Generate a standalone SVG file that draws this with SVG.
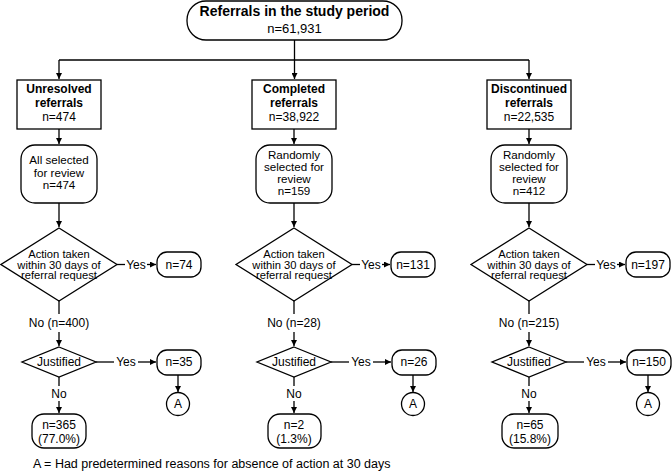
<svg xmlns="http://www.w3.org/2000/svg" width="672" height="473" viewBox="0 0 672 473">
<defs>
<marker id="ah" viewBox="0 0 10 10" refX="10" refY="5" markerWidth="6" markerHeight="6" markerUnits="userSpaceOnUse" orient="auto"><path d="M0,0 L10,5 L0,10 z" fill="#000"/></marker>
<style>
.b{fill:#fff;stroke:#000;stroke-width:1.3}
.c{fill:none;stroke:#000;stroke-width:1.3}
.a{fill:none;stroke:#000;stroke-width:1.3;marker-end:url(#ah)}
text{font-family:"Liberation Sans",Arial,sans-serif;fill:#000;text-anchor:middle}
.t{font-size:12px}
.r{font-size:11.6px}
.tb{font-size:12px;font-weight:bold}
.d{font-size:11.2px}
.l{font-size:12px}
</style>
</defs>
<g id="connectors">
<path class="a" d="M294.5,40 V79"/>
<path class="c" d="M59,60 H529"/>
<path class="a" d="M59,60 V79"/>
<path class="a" d="M529,60 V79"/>
<path class="a" d="M59,129 V144"/>
<path class="a" d="M59,203 V227"/>
<path class="c" d="M117,264.5 H125"/>
<path class="a" d="M147,264.5 H156"/>
<path class="c" d="M59,301 V314"/>
<path class="a" d="M59,332 V346"/>
<path class="c" d="M96,362 H114"/>
<path class="a" d="M138,362 H156"/>
<path class="c" d="M59,377 V386"/>
<path class="a" d="M59,401 V413"/>
<path class="a" d="M178,375 V392"/>
<path class="a" d="M294,129 V144"/>
<path class="a" d="M294,203 V227"/>
<path class="c" d="M352,264.5 H360"/>
<path class="a" d="M382,264.5 H390"/>
<path class="c" d="M294,301 V314"/>
<path class="a" d="M294,332 V346"/>
<path class="c" d="M331,362 H349"/>
<path class="a" d="M373,362 H391"/>
<path class="c" d="M294,377 V386"/>
<path class="a" d="M294,401 V413"/>
<path class="a" d="M413,375 V392"/>
<path class="a" d="M529,129 V144"/>
<path class="a" d="M529,203 V227"/>
<path class="c" d="M587,264.5 H595"/>
<path class="a" d="M617,264.5 H625"/>
<path class="c" d="M529,301 V314"/>
<path class="a" d="M529,332 V346"/>
<path class="c" d="M566,362 H584"/>
<path class="a" d="M608,362 H626"/>
<path class="c" d="M529,377 V386"/>
<path class="a" d="M529,401 V413"/>
<path class="a" d="M648,375 V392"/>
<text class="l" x="136" y="268.5">Yes</text>
<text class="l" x="59" y="327">No (n=400)</text>
<text class="l" x="126" y="366">Yes</text>
<text class="l" x="59" y="398">No</text>
<text class="l" x="371" y="268.5">Yes</text>
<text class="l" x="294" y="327">No (n=28)</text>
<text class="l" x="361" y="366">Yes</text>
<text class="l" x="294" y="398">No</text>
<text class="l" x="606" y="268.5">Yes</text>
<text class="l" x="529" y="327">No (n=215)</text>
<text class="l" x="596" y="366">Yes</text>
<text class="l" x="529" y="398">No</text>
</g>
<g id="top">
<rect class="b" x="187" y="1" width="215" height="39" rx="19" ry="19"/>
<text x="294.5" y="16" style="font-size:14px;font-weight:bold">Referrals in the study period</text>
<text x="294.5" y="32.5" style="font-size:13px">n=61,931</text>
</g>
<g id="unresolved">
<rect class="b" x="17" y="80" width="84" height="49"/>
<text class="tb" x="59" y="93">Unresolved</text>
<text class="tb" x="59" y="107">referrals</text>
<text class="t" x="59" y="121">n=474</text>
</g>
<g id="left-review">
<rect class="b" x="21" y="145" width="76" height="58" rx="14"/>
<text class="r" x="59" y="164">All selected</text>
<text class="r" x="59" y="176.5">for review</text>
<text class="r" x="59" y="189">n=474</text>
</g>
<g id="left-action">
<path class="b" d="M59,228 L117,264.5 L59,301 L1,264.5 Z"/>
<text class="d" x="59" y="257.5">Action taken</text>
<text class="d" x="59" y="268.5">within 30 days of</text>
<text class="d" x="59" y="279">referral request</text>
</g>
<g id="left-yes1">
<rect class="b" x="157" y="252" width="44" height="25" rx="10"/>
<text class="t" x="179" y="268.5">n=74</text>
</g>
<g id="left-justified">
<path class="b" d="M59,347 L96,362 L59,377 L22,362 Z"/>
<text class="t" x="59" y="366">Justified</text>
</g>
<g id="left-yes2">
<rect class="b" x="157" y="350" width="44" height="25" rx="10"/>
<text class="t" x="179" y="366">n=35</text>
</g>
<g id="left-A">
<circle class="b" cx="178" cy="404" r="11.5"/>
<text class="t" x="178" y="408">A</text>
</g>
<g id="left-no">
<rect class="b" x="32" y="414" width="54" height="34" rx="12"/>
<text class="t" x="59" y="428.5">n=365</text>
<text class="t" x="59" y="443">(77.0%)</text>
</g>
<g id="completed">
<rect class="b" x="252" y="80" width="84" height="49"/>
<text class="tb" x="294" y="93">Completed</text>
<text class="tb" x="294" y="107">referrals</text>
<text class="t" x="294" y="121">n=38,922</text>
</g>
<g id="mid-review">
<rect class="b" x="256" y="145" width="76" height="58" rx="14"/>
<text class="r" x="294" y="158.5">Randomly</text>
<text class="r" x="294" y="170.5">selected for</text>
<text class="r" x="294" y="182.5">review</text>
<text class="r" x="294" y="194.5">n=159</text>
</g>
<g id="mid-action">
<path class="b" d="M294,228 L352,264.5 L294,301 L236,264.5 Z"/>
<text class="d" x="294" y="257.5">Action taken</text>
<text class="d" x="294" y="268.5">within 30 days of</text>
<text class="d" x="294" y="279">referral request</text>
</g>
<g id="mid-yes1">
<rect class="b" x="391" y="252" width="44" height="25" rx="10"/>
<text class="t" x="413" y="268.5">n=131</text>
</g>
<g id="mid-justified">
<path class="b" d="M294,347 L331,362 L294,377 L257,362 Z"/>
<text class="t" x="294" y="366">Justified</text>
</g>
<g id="mid-yes2">
<rect class="b" x="392" y="350" width="44" height="25" rx="10"/>
<text class="t" x="414" y="366">n=26</text>
</g>
<g id="mid-A">
<circle class="b" cx="413" cy="404" r="11.5"/>
<text class="t" x="413" y="408">A</text>
</g>
<g id="mid-no">
<rect class="b" x="268" y="414" width="53" height="34" rx="12"/>
<text class="t" x="294" y="428.5">n=2</text>
<text class="t" x="294" y="443">(1.3%)</text>
</g>
<g id="discontinued">
<rect class="b" x="487" y="80" width="84" height="49"/>
<text class="tb" x="529" y="93">Discontinued</text>
<text class="tb" x="529" y="107">referrals</text>
<text class="t" x="529" y="121">n=22,535</text>
</g>
<g id="right-review">
<rect class="b" x="491" y="145" width="76" height="58" rx="14"/>
<text class="r" x="529" y="158.5">Randomly</text>
<text class="r" x="529" y="170.5">selected for</text>
<text class="r" x="529" y="182.5">review</text>
<text class="r" x="529" y="194.5">n=412</text>
</g>
<g id="right-action">
<path class="b" d="M529,228 L587,264.5 L529,301 L471,264.5 Z"/>
<text class="d" x="529" y="257.5">Action taken</text>
<text class="d" x="529" y="268.5">within 30 days of</text>
<text class="d" x="529" y="279">referral request</text>
</g>
<g id="right-yes1">
<rect class="b" x="626" y="252" width="44" height="25" rx="10"/>
<text class="t" x="648" y="268.5">n=197</text>
</g>
<g id="right-justified">
<path class="b" d="M529,347 L566,362 L529,377 L492,362 Z"/>
<text class="t" x="529" y="366">Justified</text>
</g>
<g id="right-yes2">
<rect class="b" x="627" y="350" width="44" height="25" rx="10"/>
<text class="t" x="649" y="366">n=150</text>
</g>
<g id="right-A">
<circle class="b" cx="648" cy="404" r="11.5"/>
<text class="t" x="648" y="408">A</text>
</g>
<g id="right-no">
<rect class="b" x="502" y="414" width="56" height="34" rx="12"/>
<text class="t" x="530" y="428.5">n=65</text>
<text class="t" x="530" y="443">(15.8%)</text>
</g>
<g id="footer">
<text class="t" x="33" y="468" style="text-anchor:start;font-size:12.5px">A = Had predetermined reasons for absence of action at 30 days</text>
</g>
</svg>
